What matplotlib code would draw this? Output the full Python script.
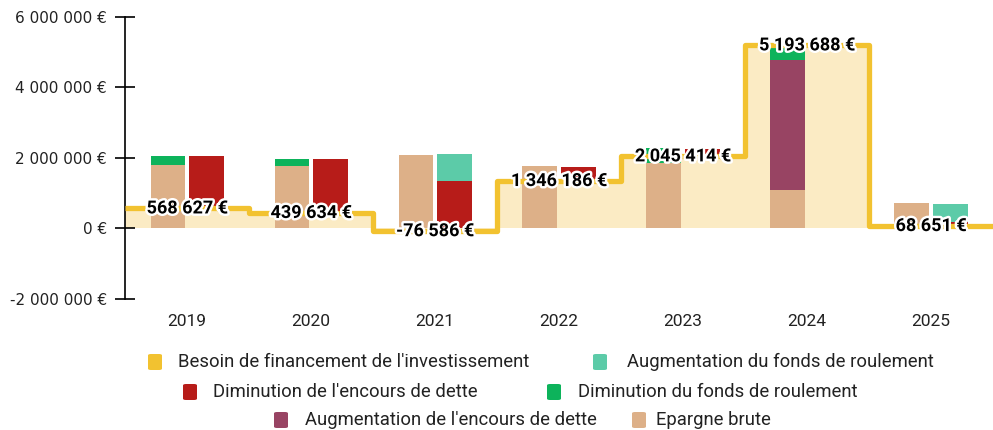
import numpy as np
import matplotlib.pyplot as plt
import matplotlib.patheffects as pe
from matplotlib.patches import FancyBboxPatch
from matplotlib.ticker import FuncFormatter

plt.rcParams["font.family"] = ["Roboto", "DejaVu Sans"]

years = ["2019", "2020", "2021", "2022", "2023", "2024", "2025"]
besoin = [568627, 439634, -76586, 1346186, 2045414, 5193688, 68651]
epargne = [1.81e6, 1.76e6, 2.08e6, 1.76e6, 1.86e6, 1.08e6, 0.71e6]
augm_dette = [0, 0, 0, 0, 0, 3.69e6, 0]
dimin_fr = [0.26e6, 0.22e6, 0, 0, 0.41e6, 0.42e6, 0]
dimin_dette = [1.50e6, 1.53e6, 1.35e6, 0.41e6, 0.22e6, 0, 0.12e6]
augm_fr = [0, 0, 0.75e6, 0, 0, 0, 0.52e6]

YELLOW = "#F2C230"
FILL = "#FBEBC4"
TAN = "#DDB088"
RED = "#B71C19"
TEAL = "#5CCBA8"
GREEN = "#0DB35B"
PURPLE = "#984463"

W, H = 993, 430
fig = plt.figure(figsize=(W / 100, H / 100), dpi=100)
ax = fig.add_axes([0.126, 0.3047, 0.874, 0.6558])

x = np.arange(len(years))
w = 0.28
off = 0.155

# step area + line for the financing need
xs = np.concatenate([[-0.5], x, [len(years) - 0.5]])
ys = np.concatenate([[besoin[0]], besoin, [besoin[-1]]])
ax.fill_between(xs, 0, ys, step="mid", color=FILL, lw=0, zorder=1)

# left bar: resources
bottom = np.zeros(len(years))
for vals, col in [(epargne, TAN), (augm_dette, PURPLE), (dimin_fr, GREEN)]:
    ax.bar(x - off, vals, w, bottom=bottom, color=col, zorder=2)
    bottom += np.array(vals)

# right bar: uses, stacked on top of the need
bottom = np.maximum(np.array(besoin, dtype=float), 0)
for vals, col in [(dimin_dette, RED), (augm_fr, TEAL)]:
    ax.bar(x + off, vals, w, bottom=bottom, color=col, zorder=2)
    bottom += np.array(vals)

ax.step(xs, ys, where="mid", color=YELLOW, lw=3.8, zorder=3,
        solid_joinstyle="round", solid_capstyle="butt")


def fmt_eur(v, pos=None):
    s = f"{int(round(v)):,}".replace(",", " ")
    return f"{s} €"


for xi, v in zip(x, besoin):
    ax.text(xi, v, fmt_eur(v), ha="center", va="center", fontsize=13,
            fontweight="bold", color="black", zorder=5,
            path_effects=[pe.withStroke(linewidth=3.5, foreground="white")])

ax.set_xlim(-0.5, len(years) - 0.5)
ax.set_ylim(-2e6, 6e6)
ax.set_yticks([-2e6, 0, 2e6, 4e6, 6e6])
ax.yaxis.set_major_formatter(FuncFormatter(fmt_eur))
ax.set_xticks(x)
ax.set_xticklabels(years)

for s in ["top", "right", "bottom"]:
    ax.spines[s].set_visible(False)
ax.spines["left"].set_color("black")
ax.spines["left"].set_linewidth(1.2)
ax.tick_params(axis="y", direction="inout", length=14, width=1.2,
               labelsize=11, labelcolor="#222222", pad=6)
for lbl in ax.get_yticklabels():
    lbl.set_family("DejaVu Sans")
ax.tick_params(axis="x", length=0, labelsize=12.5, labelcolor="#222222", pad=11)

# legend, placed item by item (pixel positions from the reference)
legend_items = [
    ("Besoin de financement de l'investissement", YELLOW, 148, 178, 362),
    ("Augmentation du fonds de roulement", TEAL, 593, 627, 362),
    ("Diminution de l'encours de dette", RED, 183, 213, 392),
    ("Diminution du fonds de roulement", GREEN, 547, 578, 392),
    ("Augmentation de l'encours de dette", PURPLE, 274, 305, 420),
    ("Epargne brute", TAN, 632, 656, 420),
]
for label, col, mx, tx, yc in legend_items:
    box = FancyBboxPatch((mx / W, 1 - (yc + 8) / H), 14 / W, 16 / H,
                         boxstyle="round,pad=0,rounding_size=0.003",
                         transform=fig.transFigure, facecolor=col,
                         edgecolor="none")
    fig.add_artist(box)
    fig.text(tx / W, 1 - yc / H, label, ha="left", va="center",
             fontsize=13.3, color="#222222")

fig.savefig("out.png", dpi=100)
